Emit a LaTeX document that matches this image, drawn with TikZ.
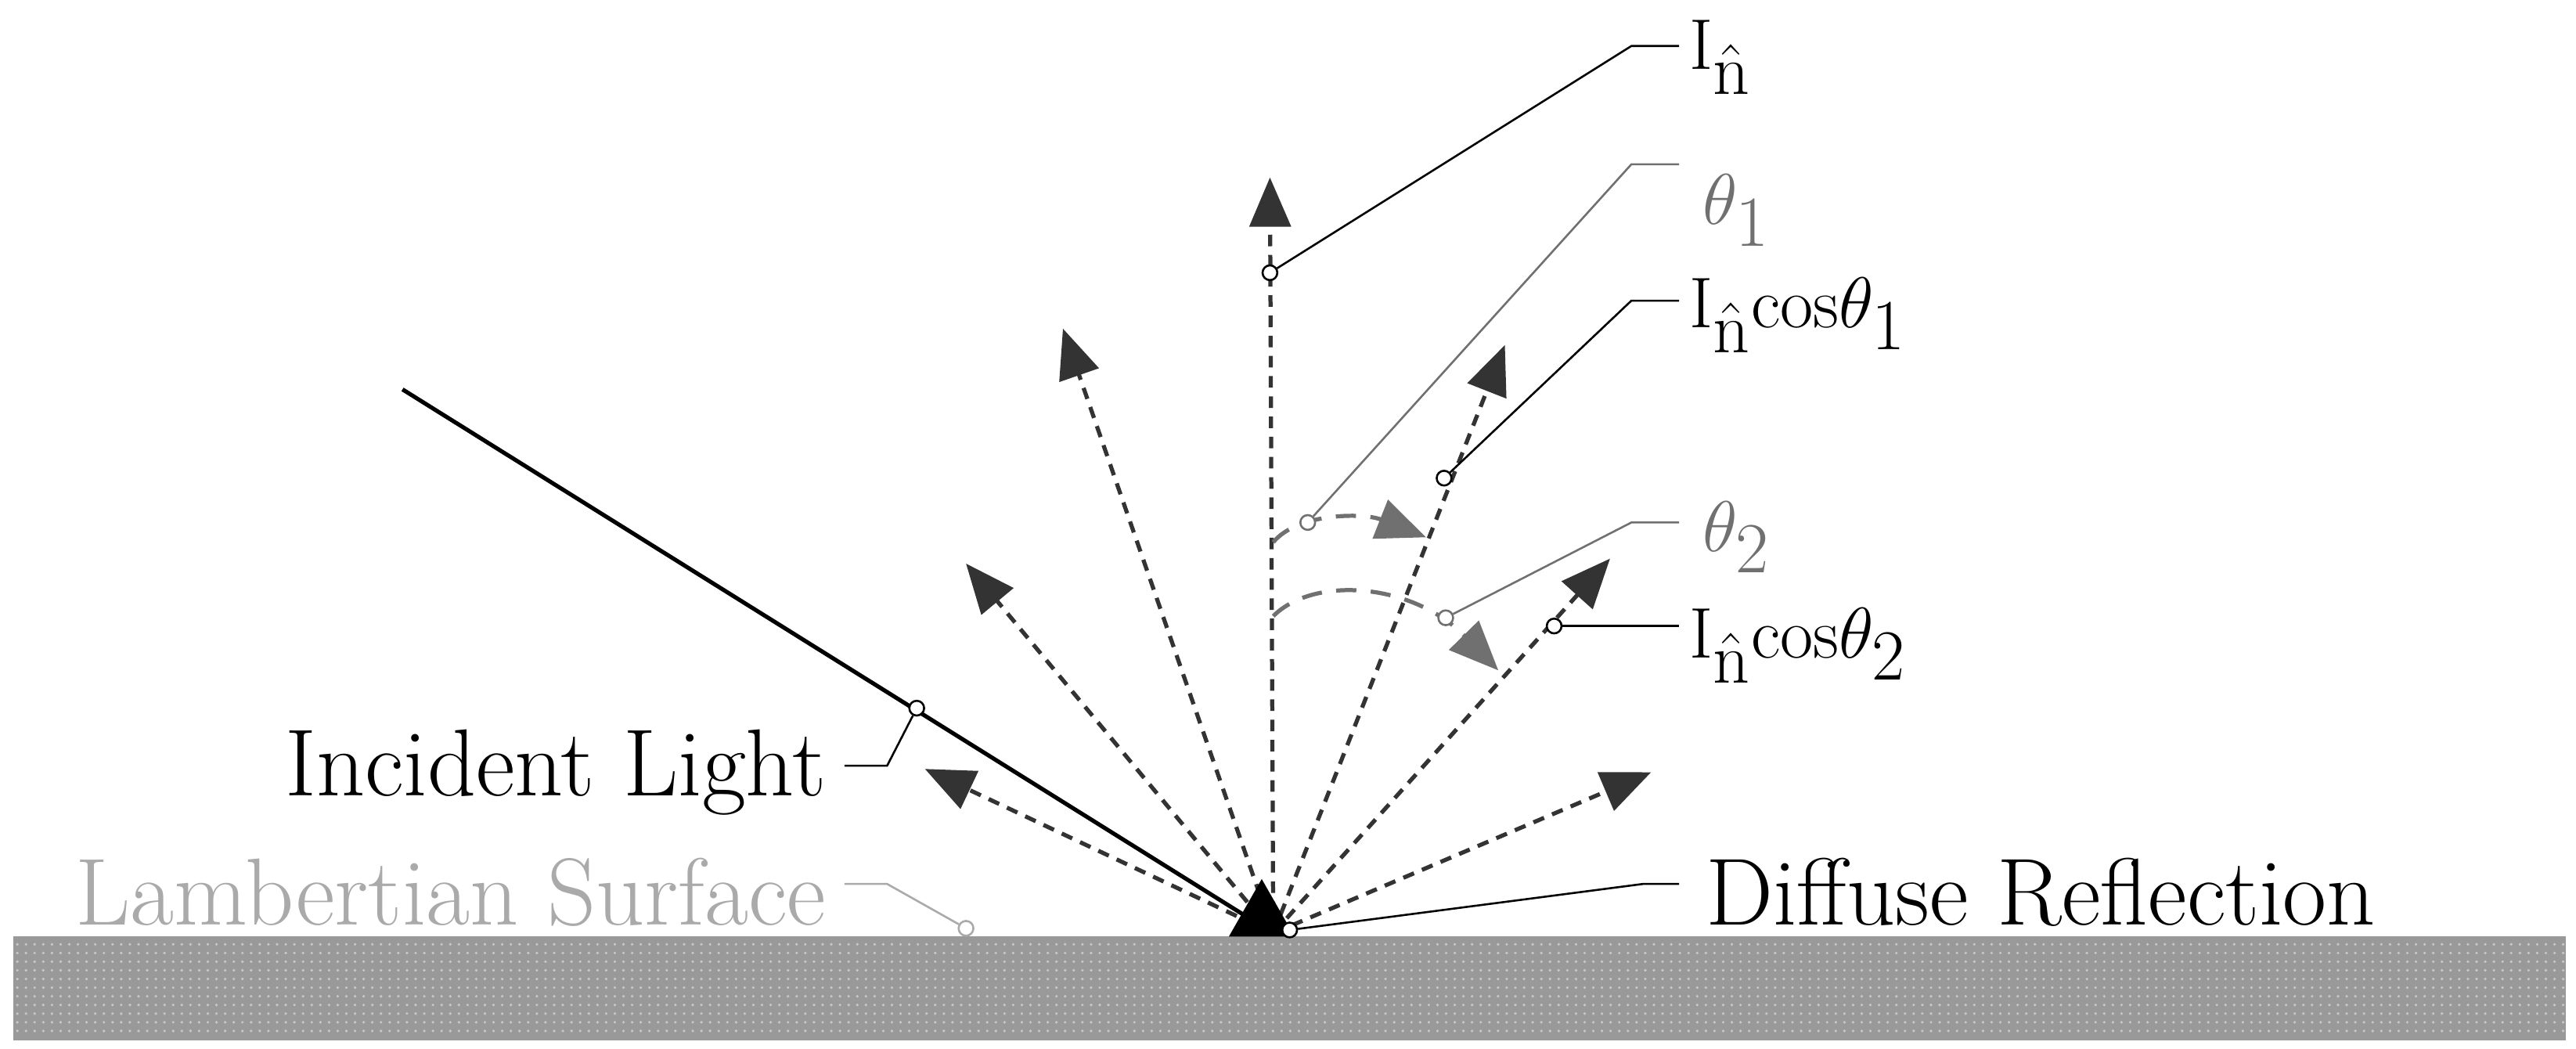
\documentclass[tikz,border=0pt]{standalone}
\usetikzlibrary{arrows.meta,patterns}
\definecolor{surf}{HTML}{999999}
\definecolor{dotc}{HTML}{C8C8C8}
\definecolor{ray}{HTML}{333333}
\definecolor{ang}{HTML}{707070}
\definecolor{lam}{HTML}{AAAAAA}
\tikzset{
  ray/.style={draw=ray, line width=0.05cm, dash pattern=on 4pt off 3pt, -{Triangle[length=0.6cm,width=0.5cm]}},
  angarr/.style={draw=ang, line width=0.05cm, dash pattern=on 7pt off 5pt, -{Triangle[length=0.6cm,width=0.5cm]}},
  lead/.style={draw=black, line width=0.7pt},
  dot/.style={circle, draw, fill=white, inner sep=0pt, minimum size=0.18cm, line width=0.7pt},
  lbl/.style={font=\fontsize{33}{38}\selectfont, inner sep=0pt},
  mlbl/.style={font=\fontsize{37}{42}\selectfont, inner sep=0pt},
}
\begin{document}
\begin{tikzpicture}[x=0.02cm,y=-0.02cm]
\useasboundingbox (0,0) rectangle (1568,638);
% surface
\fill[surf] (8,570) rectangle (1562,633);
\fill[pattern=dots, pattern color=dotc] (8,572) rectangle (1562,631);
\coordinate (O) at (775,568);
% rays
\foreach \n/\p in {r0/{773,108}, r1/{647,200}, r2/{588,343}, r3/{563,468}, r4/{916,210}, r5/{980,340}, r6/{1005,470}}
  \coordinate (\n) at (\p);
\foreach \n in {r0,r1,r2,r3,r4,r5,r6}
  \draw[ray] (O) -- (\n);
% incident light
\coordinate (src) at (245,237);
\draw[line width=0.05cm] (src) -- (O);
\fill (748,570) -- (788,570) -- (768,535) -- cycle;
% angle arrows
\coordinate (a1s) at (775,330); \coordinate (a1e) at (868,327);
\draw[angarr] (a1s) .. controls (790,312) and (830,312) .. (a1e);
\coordinate (a2s) at (775,375); \coordinate (a2e) at (912,408);
\draw[angarr] (a2s) .. controls (800,350) and (860,355) .. (a2e);
% labels
\node[mlbl, anchor=west] (tIn) at (1028,35) {$\mathrm{I}_{\hat{\mathrm{n}}}$};
\node[mlbl, anchor=west, text=ang] (tT1) at (1036,128) {$\theta_1$};
\node[mlbl, anchor=west] (tC1) at (1028,192) {$\mathrm{I}_{\hat{\mathrm{n}}}\mathrm{cos}\theta_1$};
\node[mlbl, anchor=west, text=ang] (tT2) at (1036,327) {$\theta_2$};
\node[mlbl, anchor=west] (tC2) at (1028,393) {$\mathrm{I}_{\hat{\mathrm{n}}}\mathrm{cos}\theta_2$};
\node[lbl, anchor=east] (tInc) at (503,470) {Incident Light};
\node[lbl, anchor=east, text=lam] (tLam) at (503,543) {Lambertian Surface};
\node[lbl, anchor=west] (tDif) at (1038,543) {Diffuse Reflection};
% leader points
\node[dot] (pIn) at (773,166) {};
\node[dot, draw=ang] (pT1) at (796,318) {};
\node[dot] (pC1) at (879,291) {};
\node[dot, draw=ang] (pT2) at (880,376) {};
\node[dot] (pC2) at (946,381) {};
\node[dot] (pInc) at (558,431) {};
\node[dot, draw=lam] (pLam) at (588,565) {};
\node[dot] (pDif) at (785,566) {};
% leaders
\draw[lead] (pIn) -- (993,28) -- (1022,28);
\draw[lead, draw=ang] (pT1) -- (993,100) -- (1022,100);
\draw[lead] (pC1) -- (993,183) -- (1022,183);
\draw[lead, draw=ang] (pT2) -- (993,318) -- (1022,318);
\draw[lead] (pC2) -- (1022,381);
\draw[lead] (pInc) -- (540,466) -- (514,466);
\draw[lead, draw=lam] (pLam) -- (540,538) -- (514,538);
\draw[lead] (pDif) -- (1000,538) -- (1022,538);
\end{tikzpicture}
\end{document}
